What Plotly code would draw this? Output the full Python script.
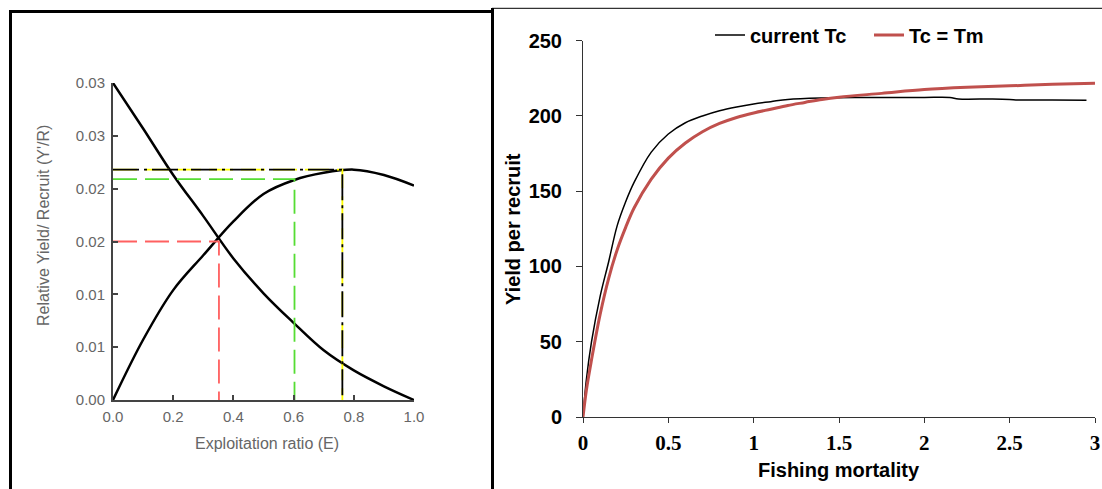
import plotly.graph_objects as go

W, H = 1102, 489

# ---------------- Left panel data (relative Y'/R and B'/R vs exploitation ratio) ----------------
E_yield = [0.0, 0.1, 0.2, 0.3, 0.4, 0.5, 0.6, 0.7, 0.8, 0.9, 1.0]
rel_yield = [0.0, 0.0057, 0.0104, 0.0137, 0.0169, 0.0195, 0.0208, 0.0215, 0.0218, 0.0213, 0.0203]
E_biom = [0.0, 0.1, 0.2, 0.3, 0.4, 0.5, 0.6, 0.7, 0.8, 0.9, 1.0]
rel_biom = [0.03, 0.0257, 0.0213, 0.0174, 0.0134, 0.0101, 0.0073, 0.0047, 0.0028, 0.0013, 0.0]

# reference points (E50, E0.1, Emax)
ref_E = [0.352, 0.603, 0.762]
ref_Y = [0.0150, 0.0209, 0.0218]

left_ytick_vals = [0.0, 0.005, 0.01, 0.015, 0.02, 0.025, 0.03]
left_ytick_text = ["0.00", "0.01", "0.01", "0.02", "0.02", "0.03", "0.03"]
left_xtick_vals = [0.0, 0.2, 0.4, 0.6, 0.8, 1.0]
left_xtick_text = ["0.0", "0.2", "0.4", "0.6", "0.8", "1.0"]

# ---------------- Right panel data (yield per recruit vs fishing mortality) ----------------
F_current = [0, 0.02, 0.05, 0.1, 0.15, 0.2, 0.25, 0.3, 0.4, 0.5, 0.6, 0.7, 0.8, 0.9, 1.0, 1.1, 1.2,
             1.4, 1.6, 1.8, 2.0, 2.15, 2.2, 2.4, 2.5, 2.55, 2.75, 2.95]
Y_current = [0, 25, 50, 80, 103, 127, 143, 156, 176, 188, 195.5, 200, 203.5, 206, 208, 209.5, 211,
             212, 212.3, 212.3, 212.3, 212.3, 211.3, 211.3, 211, 210.6, 210.6, 210.4]
F_tm = [0, 0.02, 0.05, 0.1, 0.15, 0.2, 0.25, 0.3, 0.4, 0.5, 0.6, 0.7, 0.8, 0.9, 1.0, 1.1, 1.2, 1.3,
        1.4, 1.5, 1.75, 2.0, 2.25, 2.5, 2.75, 3.0]
Y_tm = [0, 18, 38, 68, 92, 111, 126, 139, 158, 172, 182, 189.5, 195, 199, 202, 204.5, 207, 209,
        211, 212.5, 215, 217.5, 219, 220, 221, 221.7]

right_xtick_vals = [0, 0.5, 1, 1.5, 2, 2.5, 3]
right_ytick_vals = [0, 50, 100, 150, 200, 250]

fig = go.Figure()

# left panel curves
fig.add_trace(go.Scatter(x=E_yield, y=rel_yield, mode="lines", line=dict(color="black", width=2.5, shape="spline", smoothing=1.0),
                         xaxis="x", yaxis="y", showlegend=False))
fig.add_trace(go.Scatter(x=E_biom, y=rel_biom, mode="lines", line=dict(color="black", width=2.5, shape="spline", smoothing=1.0),
                         xaxis="x", yaxis="y", showlegend=False))

# reference dashed lines
ref_colors = ["#ff6060", "#55dd33", "#ffff00"]
for e, yv, c in zip(ref_E, ref_Y, ref_colors):
    fig.add_trace(go.Scatter(x=[0, e, e], y=[yv, yv, 0], mode="lines",
                             line=dict(color=c, width=1.8, dash="24px,8px"),
                             xaxis="x", yaxis="y", showlegend=False))
# black dash-dot over the yellow Emax line
fig.add_trace(go.Scatter(x=[0, ref_E[2], ref_E[2]], y=[ref_Y[2], ref_Y[2], 0], mode="lines",
                         line=dict(color="black", width=1.8, dash="26px,5px,3px,5px"),
                         xaxis="x", yaxis="y", showlegend=False))

# right panel curves
fig.add_trace(go.Scatter(x=F_current, y=Y_current, mode="lines", name="current Tc",
                         line=dict(color="black", width=1.5, shape="spline"),
                         xaxis="x2", yaxis="y2", legend="legend"))
fig.add_trace(go.Scatter(x=F_tm, y=Y_tm, mode="lines", name="Tc = Tm",
                         line=dict(color="#c0504d", width=3, shape="spline"),
                         xaxis="x2", yaxis="y2", legend="legend2"))

gray = "#666666"
left_tick_font = dict(family="Liberation Sans, Arial", size=15, color=gray)
left_title_font = dict(family="Liberation Sans, Arial", size=16, color=gray)
bold_font = dict(family="Liberation Sans, Arial", size=20, color="black", weight="bold")
serif_bold = dict(family="Liberation Serif, Times New Roman", size=21, color="black", weight="bold")


def px_x(p):
    return p / W


def px_y(p):
    return 1 - p / H


fig.update_layout(
    width=W, height=H,
    autosize=False,
    margin=dict(l=0, r=0, t=0, b=0, pad=0, autoexpand=False),
    paper_bgcolor="white", plot_bgcolor="white",
    xaxis=dict(domain=[px_x(113), px_x(414)], anchor="y", range=[0, 1], automargin=False,
               tickvals=left_xtick_vals, ticktext=left_xtick_text,
               ticks="inside", ticklen=5, tickcolor="#444", tickwidth=1.5,
               showline=True, linecolor="#444", linewidth=2, showgrid=False, zeroline=False,
               tickfont=left_tick_font, ticklabelstandoff=2),
    yaxis=dict(domain=[px_y(400), px_y(83)], anchor="x", range=[0, 0.03], automargin=False,
               tickvals=left_ytick_vals, ticktext=left_ytick_text,
               ticks="inside", ticklen=5, tickcolor="#444", tickwidth=1.5,
               showline=True, linecolor="#444", linewidth=2, showgrid=False, zeroline=False,
               tickfont=left_tick_font, ticklabelstandoff=3),
    xaxis2=dict(domain=[px_x(583), px_x(1095)], anchor="y2", range=[0, 3], automargin=False,
                tickvals=right_xtick_vals, ticks="outside", ticklen=5, tickcolor="#333",
                showline=True, linecolor="#333", linewidth=1, showgrid=False, zeroline=False,
                tickfont=serif_bold, ticklabelstandoff=2),
    yaxis2=dict(domain=[px_y(417), px_y(40.7)], anchor="x2", range=[0, 250], automargin=False,
                tickvals=right_ytick_vals, ticks="outside", ticklen=6, tickcolor="#333",
                showline=True, linecolor="#333", linewidth=1, showgrid=False, zeroline=False,
                tickfont=bold_font, ticklabelstandoff=10),
    legend=dict(x=px_x(710), xanchor="left", y=px_y(35), yanchor="middle",
                orientation="h", bgcolor="rgba(0,0,0,0)", borderwidth=0,
                font=bold_font),
    legend2=dict(x=px_x(869), xanchor="left", y=px_y(35), yanchor="middle",
                 orientation="h", bgcolor="rgba(0,0,0,0)", borderwidth=0,
                 font=bold_font),
    annotations=[
        dict(text="Relative Yield/ Recruit (Y'/R)", x=px_x(43), y=px_y(226), xref="paper", yref="paper",
             xanchor="center", yanchor="middle", textangle=-90, showarrow=False, font=left_title_font),
        dict(text="Exploitation ratio (E)", x=px_x(267), y=px_y(443), xref="paper", yref="paper",
             xanchor="center", yanchor="middle", showarrow=False, font=left_title_font),
        dict(text="Yield per recruit", x=px_x(513), y=px_y(229), xref="paper", yref="paper",
             xanchor="center", yanchor="middle", textangle=-90, showarrow=False, font=bold_font),
        dict(text="Fishing mortality", x=px_x(839), y=px_y(470), xref="paper", yref="paper",
             xanchor="center", yanchor="middle", showarrow=False, font=bold_font),
    ],
    shapes=[
        # left panel frame
        dict(type="line", xref="paper", yref="paper", x0=px_x(10.5), x1=px_x(10.5), y0=px_y(10), y1=0,
             line=dict(color="black", width=3)),
        dict(type="line", xref="paper", yref="paper", x0=px_x(9), x1=px_x(494), y0=px_y(11.5), y1=px_y(11.5),
             line=dict(color="black", width=3)),
        dict(type="line", xref="paper", yref="paper", x0=px_x(492.5), x1=px_x(492.5), y0=px_y(8), y1=0,
             line=dict(color="black", width=3)),
        # right panel top border
        dict(type="line", xref="paper", yref="paper", x0=px_x(492), x1=1, y0=px_y(8.3), y1=px_y(8.3),
             line=dict(color="black", width=1)),
    ],
)

fig.write_html("out.html")
